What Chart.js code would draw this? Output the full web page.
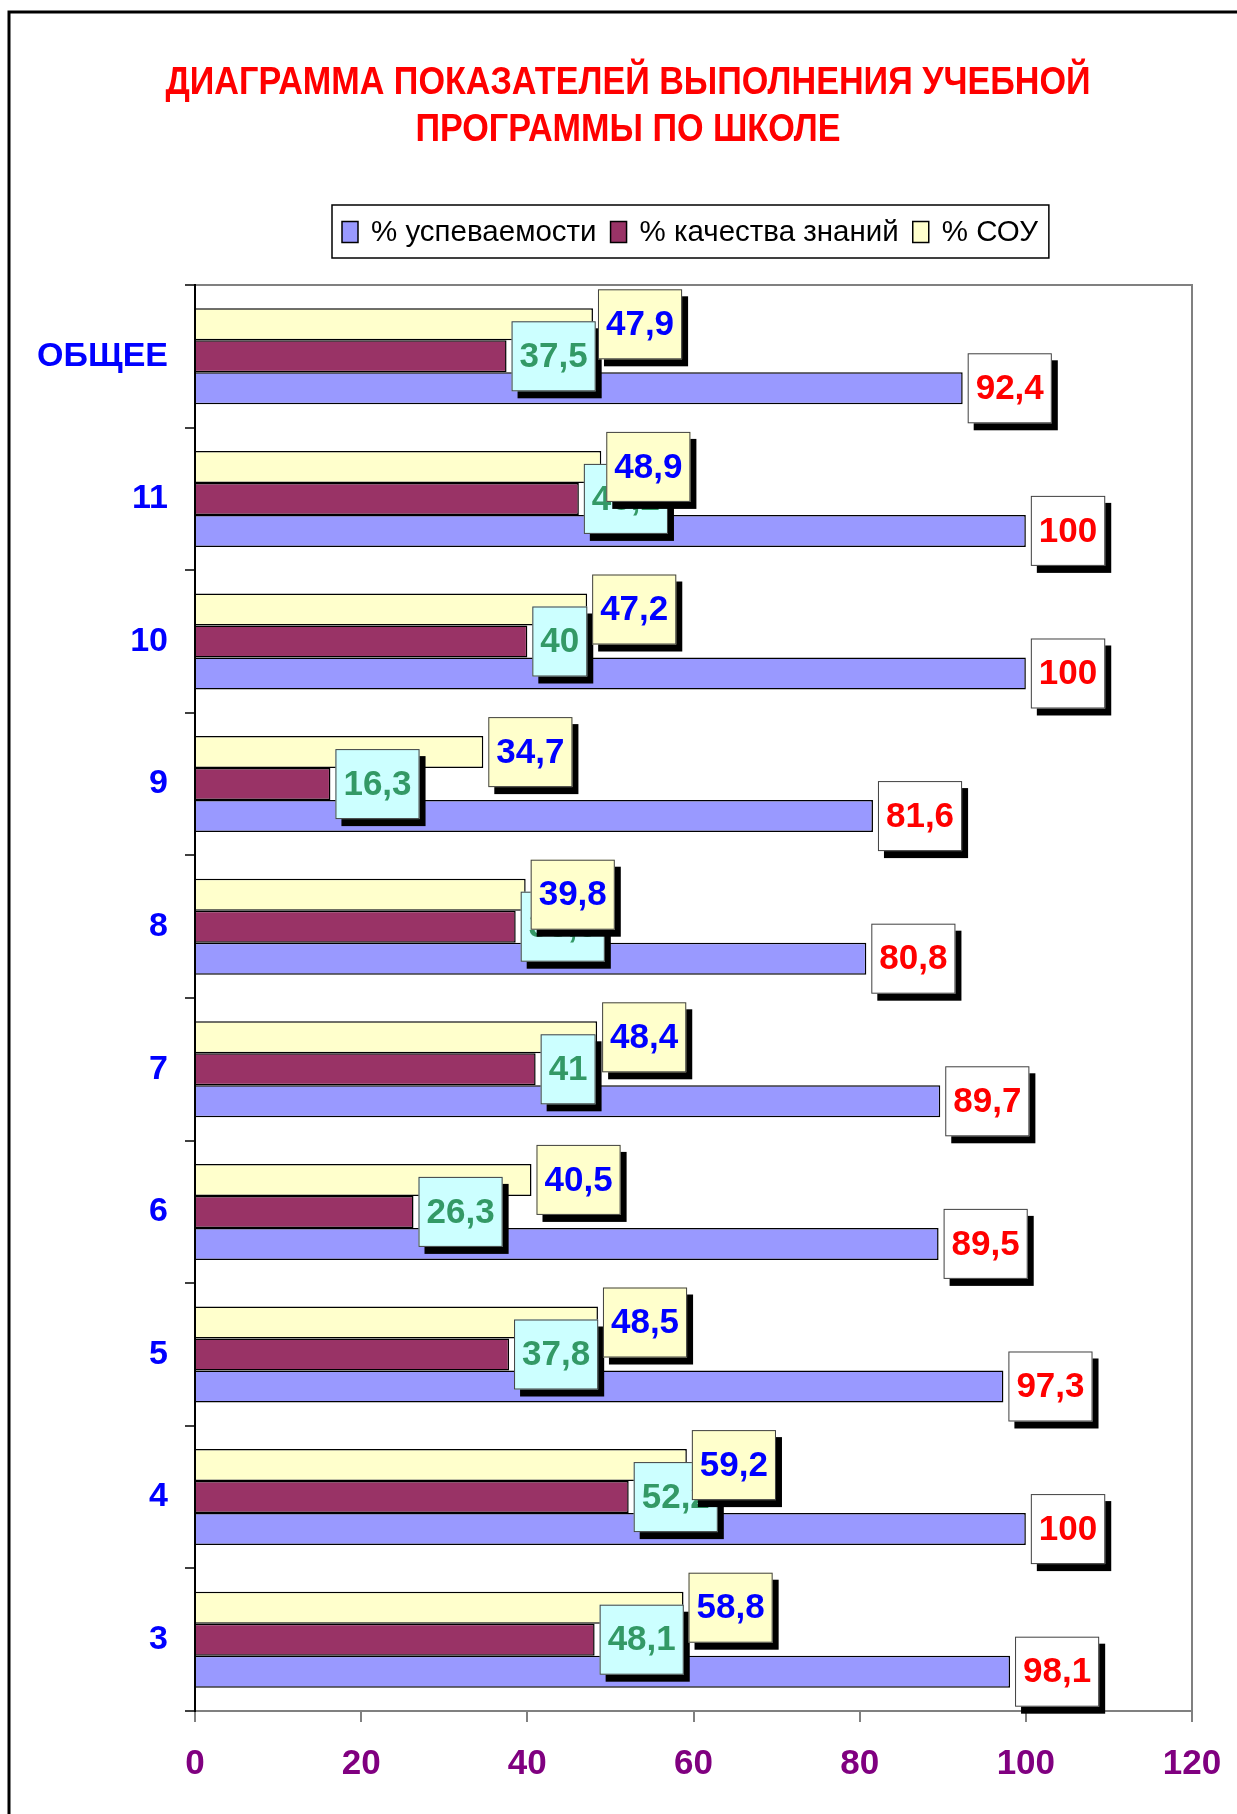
<!DOCTYPE html>
<html>
<head>
<meta charset="utf-8">
<script src="https://cdn.jsdelivr.net/npm/chart.js@4.4.1/dist/chart.umd.min.js"></script>
<style>
  html, body { margin: 0; padding: 0; background: #ffffff; }
  #wrap { width: 1237px; height: 1814px; position: relative; }
</style>
</head>
<body>
<div id="wrap"><canvas id="c" width="1237" height="1814"></canvas></div>
<script>
// ---- data ----
const TITLE_LINES = ['ДИАГРАММА ПОКАЗАТЕЛЕЙ ВЫПОЛНЕНИЯ УЧЕБНОЙ', 'ПРОГРАММЫ ПО ШКОЛЕ'];
const categories = ['ОБЩЕЕ', '11', '10', '9', '8', '7', '6', '5', '4', '3'];
const uspevaemost = [92.4, 100, 100, 81.6, 80.8, 89.7, 89.5, 97.3, 100, 98.1];
const kachestvo = [37.5, 46.2, 40, 16.3, 38.6, 41, 26.3, 37.8, 52.2, 48.1];
const sou = [47.9, 48.9, 47.2, 34.7, 39.8, 48.4, 40.5, 48.5, 59.2, 58.8];
const xTicks = [0, 20, 40, 60, 80, 100, 120];
const seriesNames = ['% успеваемости', '% качества знаний', '% СОУ'];

const FONT = '"Liberation Sans", Arial, sans-serif';

// label styles per dataset (index in datasets array)
const labelStyle = [
  { fill: '#FFFFCC', color: '#0000FF' },  // СОУ
  { fill: '#CCFFFF', color: '#339966' },  // качество
  { fill: '#FFFFFF', color: '#FF0000' }   // успеваемость
];

const framePlugin = {
  id: 'frame',
  beforeDraw(chart) {
    const ctx = chart.ctx;
    ctx.save();
    ctx.fillStyle = '#ffffff';
    ctx.fillRect(0, 0, chart.width, chart.height);
    ctx.strokeStyle = '#000000';
    ctx.lineWidth = 3;
    ctx.beginPath();
    ctx.moveTo(9, chart.height);
    ctx.lineTo(9, 12);
    ctx.lineTo(chart.width, 12);
    ctx.stroke();
    // plot area border (gray)
    const a = chart.chartArea;
    ctx.strokeStyle = '#808080';
    ctx.lineWidth = 2;
    ctx.strokeRect(a.left, a.top, a.right - a.left, a.bottom - a.top);
    ctx.restore();
  }
};

const titleLegendPlugin = {
  id: 'titleLegend',
  afterDraw(chart) {
    const ctx = chart.ctx;
    ctx.save();
    // title
    ctx.font = 'bold 39px ' + FONT;
    ctx.fillStyle = '#FF0000';
    ctx.textAlign = 'center';
    ctx.textBaseline = 'middle';
    const w1 = ctx.measureText(TITLE_LINES[0]).width;
    const sx = 925 / w1;
    const cx = 628;
    const ys = [83, 130];
    TITLE_LINES.forEach((t, i) => {
      ctx.save();
      ctx.translate(cx, ys[i]);
      ctx.scale(sx, 1);
      ctx.fillText(t, 0, 0);
      ctx.restore();
    });
    // legend
    const order = [2, 1, 0];
    ctx.font = '29.5px ' + FONT;
    ctx.textAlign = 'left';
    const boxL = 332, boxT = 205, boxH = 53;
    let x = boxL + 10;
    const cy = boxT + boxH / 2;
    const items = [];
    order.forEach((di, k) => {
      const ds = chart.data.datasets[di];
      const tw = ctx.measureText(ds.label).width;
      items.push({ x, ds, tw });
      x += 16 + 13 + tw + 14;
    });
    const boxR = x - 14 + 11;
    ctx.fillStyle = '#ffffff';
    ctx.fillRect(boxL, boxT, boxR - boxL, boxH);
    ctx.strokeStyle = '#000000';
    ctx.lineWidth = 1.5;
    ctx.strokeRect(boxL, boxT, boxR - boxL, boxH);
    items.forEach(it => {
      ctx.fillStyle = it.ds.backgroundColor;
      ctx.fillRect(it.x, cy - 10, 16, 21);
      ctx.strokeStyle = '#000000';
      ctx.lineWidth = 1.5;
      ctx.strokeRect(it.x, cy - 10, 16, 21);
      ctx.fillStyle = '#000000';
      ctx.fillText(it.ds.label, it.x + 16 + 13, cy + 1);
    });
    ctx.restore();
  }
};

const valueLabelPlugin = {
  id: 'valueLabels',
  afterDatasetsDraw(chart) {
    const ctx = chart.ctx;
    ctx.save();
    ctx.font = 'bold 35px ' + FONT;
    ctx.textAlign = 'center';
    ctx.textBaseline = 'middle';
    [2, 1, 0].forEach(di => {
      const meta = chart.getDatasetMeta(di);
      const ds = chart.data.datasets[di];
      const st = labelStyle[di];
      meta.data.forEach((el, i) => {
        const txt = String(ds.data[i]).replace('.', ',');
        const tw = ctx.measureText(txt).width;
        const bw = tw + 16, bh = 70;
        const left = el.x + 5, top = el.y - bh / 2;
        ctx.fillStyle = '#000000';
        ctx.fillRect(left + 6, top + 7, bw, bh);
        ctx.fillStyle = st.fill;
        ctx.fillRect(left, top, bw, bh);
        ctx.strokeStyle = '#404040';
        ctx.lineWidth = 1;
        ctx.strokeRect(left + 0.5, top + 0.5, bw - 1, bh - 1);
        ctx.fillStyle = st.color;
        ctx.fillText(txt, left + bw / 2, el.y + 1);
      });
    });
    ctx.restore();
  }
};

new Chart(document.getElementById('c'), {
  type: 'bar',
  data: {
    labels: categories,
    datasets: [
      { label: seriesNames[2], data: sou, backgroundColor: '#FFFFCC', borderColor: '#000000', borderWidth: 1.5 },
      { label: seriesNames[1], data: kachestvo, backgroundColor: '#993366', borderColor: '#000000', borderWidth: 1.5 },
      { label: seriesNames[0], data: uspevaemost, backgroundColor: '#9999FF', borderColor: '#000000', borderWidth: 1.5 }
    ]
  },
  options: {
    indexAxis: 'y',
    responsive: false,
    animation: false,
    categoryPercentage: 0.673,
    barPercentage: 1,
    layout: { padding: { top: 285, right: 45, left: 0, bottom: 0 } },
    plugins: {
      legend: { display: false },
      title: { display: false },
      tooltip: { enabled: false }
    },
    scales: {
      x: {
        min: 0, max: 120,
        afterBuildTicks: s => { s.ticks = xTicks.map(v => ({ value: v })); },
        ticks: { color: '#800080', font: { family: FONT, size: 35, weight: 'bold' }, padding: 21, maxRotation: 0 },
        grid: { drawOnChartArea: false, tickLength: 11, color: '#808080', lineWidth: 2 },
        border: { color: '#808080', width: 2 },
        afterFit: s => { s.height = 103; s.paddingLeft = 0; s.paddingRight = 0; }
      },
      y: {
        ticks: { color: '#0000FF', font: { family: FONT, size: 34, weight: 'bold' }, padding: 17 },
        grid: { drawOnChartArea: false, tickLength: 10, color: '#404040', lineWidth: 2, offset: true },
        border: { color: '#000000', width: 2 },
        afterFit: s => { s.width = 195; s.paddingTop = 0; s.paddingBottom = 0; }
      }
    }
  },
  plugins: [framePlugin, valueLabelPlugin, titleLegendPlugin]
});
</script>
</body>
</html>
